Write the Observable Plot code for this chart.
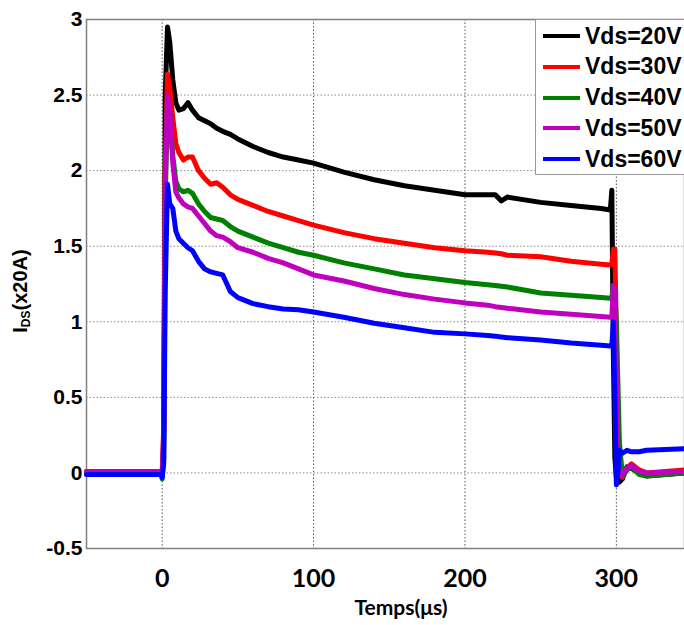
<!DOCTYPE html>
<html><head><meta charset="utf-8">
<script src="https://cdn.jsdelivr.net/npm/d3@7"></script>
<script src="https://cdn.jsdelivr.net/npm/@observablehq/plot@0.6"></script>
<style>
body{margin:0;background:#fff;}
#wrap{position:relative;width:684px;height:625px;overflow:hidden;background:#fff;}
#ylab{position:absolute;left:21px;top:291px;transform:translate(-50%,-50%) rotate(-90deg);font:bold 20px "Liberation Sans",Arial,sans-serif;white-space:nowrap;color:#000;}
#ylab sub{font-size:12px;vertical-align:-3px;}
#xlab{position:absolute;left:401px;top:596px;transform:translateX(-50%);font:bold 21px Lato,sans-serif;line-height:22px;white-space:nowrap;color:#000;}
#legend{position:absolute;left:535px;top:19px;width:160px;height:156px;border:1px solid #999;background:#fff;box-sizing:border-box;}
.lrow{position:absolute;left:7px;height:30px;display:flex;align-items:center;white-space:nowrap;}
.lsw{width:37px;height:4px;margin-right:5px;}
.ltx{font:bold 23px "Liberation Sans",Arial,sans-serif;color:#000;}
</style></head><body><div id="wrap"></div><script>
// time axis (µs)
const time = [-50, -1, 0, 1, 2, 3.5, 5, 7, 9, 11, 14, 17, 20, 24, 28, 32, 36, 40, 45, 50, 60, 70, 80, 90, 100, 120, 140, 160, 180, 200, 215, 220, 224, 228, 250, 270, 290, 296, 297, 298, 299, 300, 301, 302, 304, 307, 310, 315, 320, 345];
const vds20 = [0.01, 0.01, 0.0, 0.1, 2.5, 2.95, 2.85, 2.6, 2.45, 2.40, 2.41, 2.45, 2.40, 2.35, 2.33, 2.31, 2.28, 2.26, 2.24, 2.21, 2.16, 2.12, 2.09, 2.07, 2.05, 1.99, 1.94, 1.90, 1.87, 1.84, 1.84, 1.84, 1.80, 1.825, 1.79, 1.77, 1.75, 1.74, 1.87, 0.8, 0.1, -0.03, -0.05, -0.06, -0.04, 0.04, 0.03, 0.0, -0.02, 0.0];
const vds30 = [0.01, 0.01, 0.0, 0.3, 2.0, 2.64, 2.55, 2.35, 2.18, 2.12, 2.07, 2.09, 2.09, 2.00, 1.95, 1.91, 1.92, 1.89, 1.84, 1.81, 1.77, 1.73, 1.70, 1.67, 1.64, 1.59, 1.55, 1.52, 1.49, 1.47, 1.46, 1.455, 1.45, 1.44, 1.43, 1.40, 1.38, 1.375, 1.38, 1.48, 1.48, 0.9, 0.3, 0.0, -0.03, 0.03, 0.06, 0.02, 0.0, 0.02];
const vds40 = [0.0, 0.0, -0.04, 0.2, 1.8, 2.45, 2.4, 2.1, 1.93, 1.88, 1.86, 1.87, 1.85, 1.78, 1.73, 1.69, 1.68, 1.67, 1.63, 1.60, 1.56, 1.52, 1.49, 1.46, 1.44, 1.39, 1.35, 1.31, 1.285, 1.26, 1.245, 1.24, 1.235, 1.23, 1.19, 1.175, 1.16, 1.155, 1.16, 1.24, 1.2, 1.0, 0.6, 0.2, -0.02, 0.02, 0.04, -0.01, -0.02, 0.0];
const vds50 = [0.005, 0.005, 0.0, 0.25, 1.9, 2.5, 2.4, 2.05, 1.86, 1.82, 1.78, 1.76, 1.75, 1.70, 1.65, 1.60, 1.57, 1.56, 1.53, 1.49, 1.46, 1.42, 1.39, 1.35, 1.31, 1.27, 1.22, 1.18, 1.15, 1.125, 1.11, 1.10, 1.095, 1.09, 1.065, 1.05, 1.035, 1.03, 1.03, 1.24, 1.2, 0.6, 0.1, -0.02, -0.01, 0.03, 0.05, 0.01, 0.0, 0.01];
const vds60 = [-0.01, -0.01, -0.03, 0.06, 1.2, 1.91, 1.78, 1.75, 1.60, 1.55, 1.52, 1.49, 1.47, 1.40, 1.35, 1.33, 1.32, 1.31, 1.20, 1.16, 1.12, 1.10, 1.085, 1.08, 1.065, 1.03, 0.99, 0.96, 0.93, 0.92, 0.91, 0.905, 0.90, 0.895, 0.88, 0.86, 0.845, 0.84, 0.84, 1.0, 0.5, -0.08, 0.0, 0.15, 0.13, 0.15, 0.14, 0.14, 0.15, 0.16];
const seriesNames = ["Vds=20V", "Vds=30V", "Vds=40V", "Vds=50V", "Vds=60V"];
const seriesColors = ["#000000", "#ff0000", "#008000", "#bf00bf", "#0000ff"];
const xTicks = [0, 100, 200, 300];
const yTicks = [-0.5, 0, 0.5, 1, 1.5, 2, 2.5, 3];

const seriesValues = [vds20, vds30, vds40, vds50, vds60];
const rows = [];
seriesValues.forEach((vals, k) => vals.forEach((v, j) => rows.push({t: time[j], ids: v, s: seriesNames[k]})));

const chart = Plot.plot({
  width: 684, height: 625,
  marginLeft: 86, marginTop: 19, marginBottom: 77, marginRight: 0,
  x: {domain: [-50, 345], label: null},
  y: {domain: [-0.5, 3], label: null},
  color: {domain: seriesNames, range: seriesColors},
  style: {background: "#fff"},
  marks: [
    Plot.gridX(xTicks, {stroke: "#555", strokeOpacity: 1, strokeDasharray: "1.5,2"}),
    Plot.gridY(yTicks, {stroke: "#888", strokeOpacity: 1, strokeDasharray: "1.5,2"}),
    Plot.frame({stroke: "#808080", strokeWidth: 1.5}),
    Plot.line(rows, {x: "t", y: "ids", z: "s", stroke: "s", strokeWidth: 5, strokeLinejoin: "round", strokeLinecap: "round"}),
    Plot.axisX(xTicks, {tickSize: 0, tickPadding: 21, fontSize: 25, fontWeight: "bold", fontFamily: "Lato, sans-serif", fill: "#000"}),
    Plot.axisY(yTicks, {tickSize: 0, tickPadding: 4, fontSize: 21, fontWeight: "bold", fontFamily: "Liberation Sans, Arial, sans-serif", fill: "#000", tickFormat: d => String(d)})
  ]
});
const wrap = document.getElementById("wrap");
wrap.appendChild(chart);

const yl = document.createElement("div");
yl.id = "ylab";
yl.innerHTML = "I<sub>DS</sub>(x20A)";
wrap.appendChild(yl);

const xl = document.createElement("div");
xl.id = "xlab";
xl.textContent = "Temps(μs)";
wrap.appendChild(xl);

const lg = document.createElement("div");
lg.id = "legend";
seriesNames.forEach((n, k) => {
  const r = document.createElement("div");
  r.className = "lrow";
  r.style.top = (1 + k * 30.8) + "px";
  const sw = document.createElement("div");
  sw.className = "lsw";
  sw.style.background = seriesColors[k];
  const tx = document.createElement("span");
  tx.className = "ltx";
  tx.textContent = n;
  r.appendChild(sw); r.appendChild(tx);
  lg.appendChild(r);
});
wrap.appendChild(lg);
</script></body></html>
